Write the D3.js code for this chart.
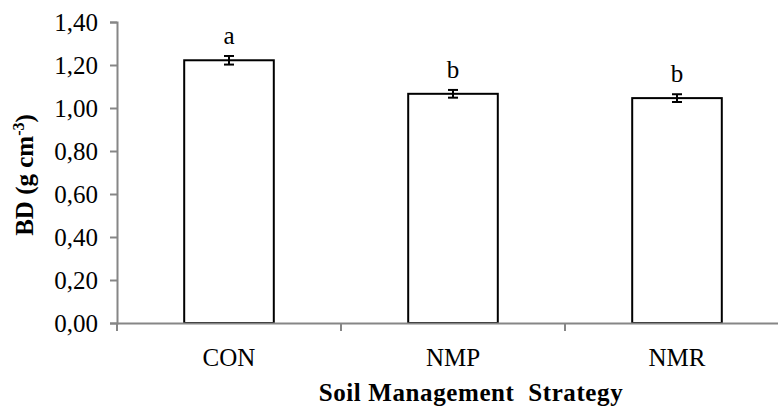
<!DOCTYPE html>
<html>
<head>
<meta charset="utf-8">
<script src="https://cdn.jsdelivr.net/npm/d3@7"></script>
<style>
  body { margin: 0; background: #fff; }
  svg text { font-family: 'Liberation Serif', 'Times New Roman', serif; }
</style>
</head>
<body>
<svg id="chart" width="778" height="406"></svg>
<script>
const categories = ['CON', 'NMP', 'NMR']
const means = [1.222, 1.066, 1.046]
const errors = [0.02, 0.018, 0.018]
const letters = ['a', 'b', 'b']
const yTicks = [0, 0.2, 0.4, 0.6, 0.8, 1.0, 1.2, 1.4]

const data = categories.map((c, i) => ({ cat: c, mean: means[i], err: errors[i], letter: letters[i] }))

const svg = d3.select('#chart')
const axisColor = '#868686'
const serif = "'Liberation Serif', 'Times New Roman', serif"

const x = d3.scaleBand()
  .domain(categories)
  .range([117, 789])
  .padding(0)

const y = d3.scaleLinear()
  .domain([0, 1.4])
  .range([323, 22])

const barW = x.bandwidth() * 0.4

// y axis
const yAxis = svg.append('g')
  .attr('transform', 'translate(117,0)')
  .call(d3.axisLeft(y).tickValues(yTicks).tickSize(7).tickPadding(12)
    .tickFormat(d => d3.format('.2f')(d).replace('.', ',')))
  .attr('font-family', serif)
  .attr('font-size', 25)
yAxis.select('.domain').attr('stroke', axisColor).attr('stroke-width', 2)
yAxis.selectAll('.tick line').attr('stroke', axisColor).attr('stroke-width', 2)
yAxis.selectAll('.tick text').attr('fill', '#000')

// bars
svg.selectAll('.bar')
  .data(data)
  .join('rect')
  .attr('class', 'bar')
  .attr('x', d => x(d.cat) + (x.bandwidth() - barW) / 2)
  .attr('y', d => y(d.mean))
  .attr('width', barW)
  .attr('height', d => y(0) - y(d.mean))
  .attr('fill', '#fff')
  .attr('stroke', '#000')
  .attr('stroke-width', 2)

// error bars
const eb = svg.selectAll('.err')
  .data(data)
  .join('g')
  .attr('class', 'err')
  .attr('stroke', '#000')
  .attr('stroke-width', 2)
eb.append('line')
  .attr('x1', d => x(d.cat) + x.bandwidth() / 2)
  .attr('x2', d => x(d.cat) + x.bandwidth() / 2)
  .attr('y1', d => y(d.mean + d.err))
  .attr('y2', d => y(d.mean - d.err))
eb.selectAll('.cap')
  .data(d => [d.mean + d.err, d.mean - d.err].map(v => ({ cat: d.cat, v })))
  .join('line')
  .attr('class', 'cap')
  .attr('x1', d => x(d.cat) + x.bandwidth() / 2 - 5)
  .attr('x2', d => x(d.cat) + x.bandwidth() / 2 + 5)
  .attr('y1', d => y(d.v))
  .attr('y2', d => y(d.v))

// significance letters
svg.selectAll('.letter')
  .data(data)
  .join('text')
  .attr('class', 'letter')
  .attr('x', d => x(d.cat) + x.bandwidth() / 2)
  .attr('y', d => y(d.mean + d.err) - 12)
  .attr('text-anchor', 'middle')
  .attr('font-family', serif)
  .attr('font-size', 25)
  .text(d => d.letter)

// x axis (drawn on top of bar bottoms)
const xAxis = svg.append('g')
  .attr('transform', 'translate(0,323)')
  .call(d3.axisBottom(x).tickSize(0).tickPadding(25))
  .attr('font-family', serif)
  .attr('font-size', 25)
xAxis.select('.domain').attr('stroke', axisColor).attr('stroke-width', 2)
xAxis.selectAll('.tick text').attr('fill', '#000')

// band boundary ticks
const bounds = categories.map(c => x(c))
svg.selectAll('.btick')
  .data(bounds)
  .join('line')
  .attr('class', 'btick')
  .attr('x1', d => d)
  .attr('x2', d => d)
  .attr('y1', 323)
  .attr('y2', 331)
  .attr('stroke', axisColor)
  .attr('stroke-width', 2)

// axis titles
svg.append('text')
  .attr('x', 471)
  .attr('y', 401)
  .attr('text-anchor', 'middle')
  .attr('font-family', serif)
  .attr('font-size', 25)
  .attr('font-weight', 'bold')
  .style('letter-spacing', '0.6px')
  .style('white-space', 'pre')
  .text('Soil Management  Strategy')

const yTitle = svg.append('text')
  .attr('transform', 'translate(33,175) rotate(-90)')
  .attr('text-anchor', 'middle')
  .attr('font-family', serif)
  .attr('font-size', 25)
  .attr('font-weight', 'bold')
yTitle.append('tspan').text('BD (g cm')
yTitle.append('tspan').attr('dy', -9).attr('font-size', 16).text('-3')
yTitle.append('tspan').attr('dy', 9).text(')')
</script>
</body>
</html>
